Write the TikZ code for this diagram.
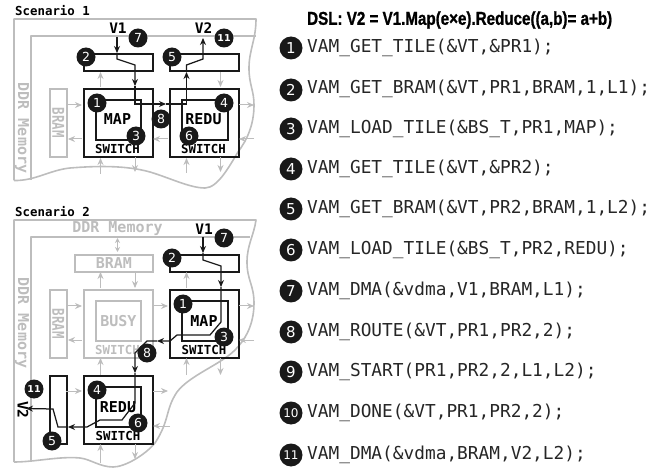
\documentclass[tikz,border=0pt]{standalone}
\usepackage{graphicx}
\usepackage{fontspec}
\setmainfont{DejaVu Sans}
\setmonofont{DejaVu Sans Mono}
\newfontfamily\titlefont[BoldFeatures={FakeBold=1.2}]{Liberation Sans}
\usetikzlibrary{arrows.meta}
\definecolor{gl}{gray}{0.74}
\definecolor{blk}{gray}{0.1}
\tikzset{x=1pt,y=-1pt,
 bbox/.style={draw=blk,line width=1.9pt},
 gbox/.style={draw=gl,line width=1.8pt},
 gout/.style={draw=gl,line width=1.6pt,line join=round},
 garrow/.style={draw=gl,line width=1pt,-{Stealth[length=7pt,width=6pt]}},
 gdarrow/.style={draw=gl,line width=1pt,{Stealth[length=5pt,width=5pt]}-{Stealth[length=5pt,width=5pt]}},
 barrow/.style={draw=blk,line width=1.25pt,-{Stealth[length=7pt,width=6pt]}},
 num/.style={circle,fill=blk,text=white,minimum size=19pt,inner sep=0pt,font=\fontsize{12.5}{13}\selectfont},
 numsm/.style={circle,fill=blk,text=white,minimum size=19pt,inner sep=0pt,font=\fontsize{9.5}{10}\selectfont\bfseries},
 lnum/.style={circle,fill=blk,text=white,minimum size=23pt,inner sep=0pt,font=\fontsize{15}{16}\selectfont},
 lnumsm/.style={circle,fill=blk,text=white,minimum size=23pt,inner sep=0pt,font=\fontsize{12}{13}\selectfont},
 code/.style={anchor=west,inner sep=0pt,font=\ttfamily\fontsize{17.8}{18}\selectfont,text=black!85},
 head/.style={anchor=west,inner sep=0pt,font=\ttfamily\bfseries\fontsize{12.4}{13}\selectfont},
 vlab/.style={inner sep=0pt,font=\ttfamily\bfseries\fontsize{14.5}{15}\selectfont},
 fn/.style={inner sep=0pt,font=\ttfamily\bfseries\fontsize{15}{16}\selectfont},
 sw/.style={inner sep=0pt,font=\ttfamily\bfseries\fontsize{12.4}{13}\selectfont},
 gtxt/.style={inner sep=0pt,text=gl,font=\ttfamily\bfseries\fontsize{#1}{16}\selectfont},
}
\newcommand{\rectnode}[6]{\node[#2,minimum width=#5pt-#3pt,minimum height=#6pt-#4pt,inner sep=0pt,anchor=north west] (#1) at (#3,#4) {};}
\newcommand{\tallbram}{\scalebox{1}[1.3]{BRAM}}
\begin{document}
\begin{tikzpicture}
\useasboundingbox (0,0) rectangle (665,468);
% ---------- scenario 1 outline
\path[gout] (14,180.5) -- (14,19) -- (256,19) .. controls (256,40) and (249,50) .. (249,68) .. controls (249,85) and (254,90) .. (254,105) .. controls (254,125) and (247,140) .. (238,152) .. controls (230,165) and (218,188) .. (205,188) .. controls (190,188) and (170,178) .. (150,172) .. controls (125,165) and (95,166) .. (70,168) .. controls (50,170) and (35,181) .. (14,180.5);
\path[gout] (31,180) -- (31,36) -- (256,36);
\node[head] (t1) at (15,10.5) {Scenario 1};
\node[gtxt=15,rotate=-90] (ddr1) at (22,128) {DDR Memory};
\rectnode{bram1}{gbox}{49}{88}{66}{156}
\node[gtxt=12.5,rotate=-90] at (bram1.center) {\tallbram};
\rectnode{a1}{bbox}{83}{53}{152}{70}
\rectnode{a2}{bbox}{169}{53}{238}{70}
\rectnode{s1}{bbox}{83}{88}{152}{156}
\rectnode{s2}{bbox}{169}{88}{238}{156}
\rectnode{i1}{bbox}{95}{99}{140}{139}
\rectnode{i2}{bbox}{181}{99}{227}{139}
\node[fn] (map1) at (117.5,119.5) {MAP};
\node[fn] (redu1) at (203.5,119.5) {REDU};
\node[sw] (sw1) at (117.5,149) {SWITCH};
\node[sw] (sw2) at (203.5,149) {SWITCH};
\node[vlab] (v1a) at (118,28) {V1};
\node[vlab] (v2a) at (203.5,28) {V2};
\foreach \pa/\pb/\qa/\qb in {100.5/87/100.5/72, 220.5/72/220.5/87, 66/105/82/105, 82/139/68/139, 168/139/153/139, 239/105/254/105, 254/139/239/139, 100.5/174/100.5/158, 135/157/135/172, 186.5/173/186.5/158, 220.5/157/220.5/172}
  {\path[garrow] (\pa,\pb) -- (\qa,\qb);}
\coordinate (p1) at (117,37); \coordinate (p2) at (117,53);
\path[barrow] (p1) -- (p2);
\coordinate (p3) at (135,86);
\path[barrow] (p2) -- (117,59) -- (135,65) -- (p3);
\coordinate (p4) at (166,104);
\path[barrow] (p3) -- (135,104) -- (p4);
\coordinate (p5) at (186.5,72);
\path[barrow] (p4) -- (186.5,104) -- (p5);
\coordinate (p6) at (203,38);
\path[barrow] (p5) -- (186.5,65) -- (203,59) -- (p6);
\node[num] (c1) at (97,103) {1};
\node[num] (c2) at (86,57) {2};
\node[num] (c3) at (136,136) {3};
\node[num] (c4) at (224,103) {4};
\node[num] (c5) at (172,57) {5};
\node[num] (c6) at (189,136) {6};
\node[num] (c7) at (138,38) {7};
\node[num] (c8) at (161,119) {8};
\node[numsm] (c11) at (224,38) {11};
% ---------- scenario 2 outline
\path[gout] (14,462) -- (14,220) -- (256,220) .. controls (254,235) and (247,245) .. (247,262) .. controls (247,280) and (254,285) .. (254,303) .. controls (254,325) and (245,340) .. (235,350) .. controls (220,365) and (190,375) .. (177,392) .. controls (165,410) and (170,420) .. (155,443) .. controls (145,455) and (125,467) .. (113,467) .. controls (100,467) and (90,459) .. (80,458) .. controls (60,456) and (35,462) .. (14,462);
\path[gout] (31,462) -- (31,237) -- (250,237);
\node[head] (t2) at (15,212) {Scenario 2};
\node[gtxt=15] (ddr2) at (117.5,229) {DDR Memory};
\node[gtxt=15,rotate=-90] (ddr3) at (22,323) {DDR Memory};
\rectnode{bram2}{gbox}{74}{254}{152}{271}
\node[gtxt=15] at (bram2.center) {BRAM};
\rectnode{bram3}{gbox}{49}{289}{66}{357}
\node[gtxt=12.5,rotate=-90] at (bram3.center) {\tallbram};
\rectnode{s3}{gbox}{83}{289}{152}{357}
\rectnode{i3}{gbox}{95}{300}{140}{340}
\node[gtxt=15] (busy) at (i3.center) {BUSY};
\node[gtxt=12.4] (sw3) at (117.5,350) {SWITCH};
\rectnode{a3}{bbox}{169}{254}{238}{271}
\rectnode{s4}{bbox}{169}{289}{238}{357}
\rectnode{i4}{bbox}{181}{300}{227}{340}
\node[fn] (map2) at (204,321) {MAP};
\node[sw] (sw4) at (204,350) {SWITCH};
\rectnode{s5}{bbox}{83}{375}{152}{443}
\rectnode{i5}{bbox}{95}{386}{140}{426}
\node[fn] (redu2) at (118,407) {REDU};
\node[sw] (sw5) at (118,436) {SWITCH};
\rectnode{a4}{bbox}{49}{375}{66}{443}
\node[vlab,rotate=-90] (v2b) at (23,410) {V2};
\node[vlab] (v1b) at (204,229) {V1};
\path[gdarrow] (117.5,238) -- (117.5,252);
\foreach \pa/\pb/\qa/\qb in {100.5/288/100.5/272, 135/272/135/288, 186.5/288/186.5/272, 66/306/82/306, 82/340/68/340, 153/306/168/306, 239/306/254/306, 254/340/239/340, 100.5/375/100.5/358, 186.5/375/186.5/358, 220.5/358/220.5/375, 66/391/82/391, 153/391/168/391, 170/426/153/426, 100.5/463/100.5/444, 135/444/135/459}
  {\path[garrow] (\pa,\pb) -- (\qa,\qb);}
\coordinate (q1) at (203,237); \coordinate (q2) at (203,253);
\path[barrow] (q1) -- (q2);
\coordinate (q3) at (221,287);
\path[barrow] (q2) -- (203,260) -- (221,266) -- (q3);
\coordinate (q4) at (157,341);
\path[barrow] (q3) -- (221,322) -- (210,335) -- (177,335) -- (170,341) -- (q4);
\coordinate (q5) at (135,373);
\path[barrow] (q4) -- (147,341) -- (135,353) -- (q5);
\coordinate (q6) at (68,427);
\path[barrow] (q5) -- (135,403) -- (122,420) -- (100,420) -- (87,427) -- (q6);
\coordinate (q7) at (26,408.5);
\path[barrow] (q6) -- (58,427) -- (53,409) -- (q7);
\node[num] (d1) at (183,304) {1};
\node[num] (d2) at (172,258) {2};
\node[num] (d3) at (224,337) {3};
\node[num] (d4) at (97,390) {4};
\node[num] (d5) at (52,441) {5};
\node[num] (d6) at (138,423) {6};
\node[num] (d7) at (224,238) {7};
\node[num] (d8) at (147,353) {8};
\node[numsm] (d11) at (34,389) {11};
% ---------- code list
\node[inner sep=0pt,anchor=west] (title) at (307,20) {\resizebox{305pt}{13.5pt}{\titlefont\bfseries DSL: V2 = V1.Map(e×e).Reduce((a,b)= a+b)}};
\node[lnum] (l1) at (291,48) {1};
\node[lnum] (l2) at (291,90) {2};
\node[lnum] (l3) at (291,129) {3};
\node[lnum] (l4) at (291,169) {4};
\node[lnum] (l5) at (291,209) {5};
\node[lnum] (l6) at (291,250) {6};
\node[lnum] (l7) at (291,291) {7};
\node[lnum] (l8) at (291,332) {8};
\node[lnum] (l9) at (291,372) {9};
\node[lnumsm] (l10) at (291,413) {10};
\node[lnumsm] (l11) at (291,455) {11};
\node[code] at (307,48) {VAM\_GET\_TILE(\&VT,\&PR1);};
\node[code] at (307,89) {VAM\_GET\_BRAM(\&VT,PR1,BRAM,1,L1);};
\node[code] at (307,129) {VAM\_LOAD\_TILE(\&BS\_T,PR1,MAP);};
\node[code] at (307,169) {VAM\_GET\_TILE(\&VT,\&PR2);};
\node[code] at (307,209) {VAM\_GET\_BRAM(\&VT,PR2,BRAM,1,L2);};
\node[code] at (307,250) {VAM\_LOAD\_TILE(\&BS\_T,PR2,REDU);};
\node[code] at (307,291) {VAM\_DMA(\&vdma,V1,BRAM,L1);};
\node[code] at (307,332) {VAM\_ROUTE(\&VT,PR1,PR2,2);};
\node[code] at (307,372) {VAM\_START(PR1,PR2,2,L1,L2);};
\node[code] at (307,413) {VAM\_DONE(\&VT,PR1,PR2,2);};
\node[code] at (307,455) {VAM\_DMA(\&vdma,BRAM,V2,L2);};
\end{tikzpicture}
\end{document}
